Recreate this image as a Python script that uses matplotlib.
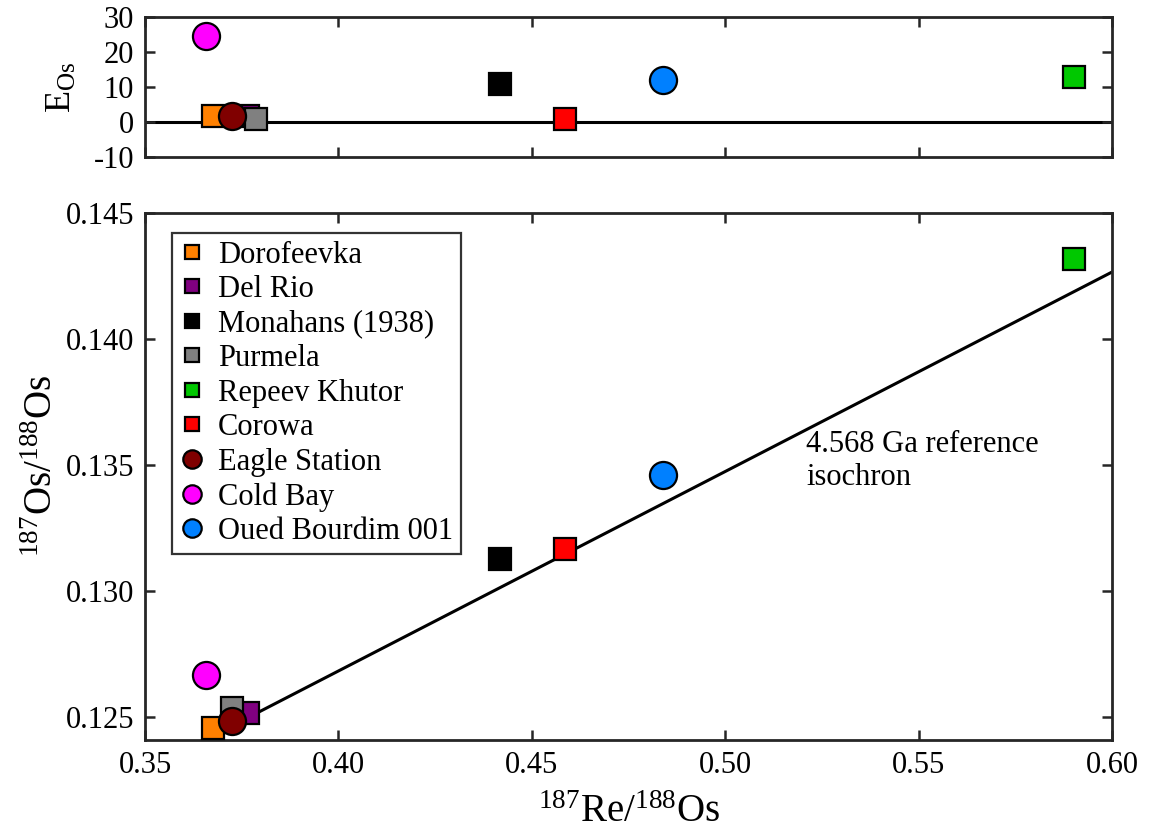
import matplotlib
matplotlib.use("Agg")
import matplotlib.pyplot as plt

plt.rcParams['font.family'] = ['Liberation Serif', 'DejaVu Serif']
plt.rcParams['mathtext.fontset'] = 'custom'
plt.rcParams['mathtext.rm'] = 'Liberation Serif'
plt.rcParams['mathtext.it'] = 'Liberation Serif:italic'
plt.rcParams['axes.unicode_minus'] = False

# sample names, marker shapes and colours
names = ['Dorofeevka', 'Del Rio', 'Monahans (1938)', 'Purmela', 'Repeev Khutor',
         'Corowa', 'Eagle Station', 'Cold Bay', 'Oued Bourdim 001']
shapes = ['s', 's', 's', 's', 's', 's', 'o', 'o', 'o']
colors = ['#ff8000', '#800080', '#000000', '#808080', '#00c800',
          '#ff0000', '#800000', '#ff00ff', '#0080ff']

# 187Re/188Os and 187Os/188Os
re_os = [0.3677, 0.3767, 0.4418, 0.3725, 0.5902, 0.4586, 0.3725, 0.3658, 0.4839]
os_os = [0.12456, 0.12516, 0.13127, 0.12536, 0.14317, 0.13167, 0.12484, 0.12667, 0.13460]

# epsilon Os panel (x positions as plotted there)
eps_x = [0.3677, 0.3765, 0.4418, 0.3787, 0.5902, 0.4586, 0.3725, 0.3658, 0.4839]
eps_os = [1.7, 1.6, 10.9, 0.9, 12.9, 0.9, 1.7, 24.6, 12.0]

# 4.568 Ga reference isochron end points
iso_x = [0.3765, 0.600]
iso_y = [0.12498, 0.14266]

fig = plt.figure(figsize=(11.52, 8.38), dpi=100)
ax_top = fig.add_axes([0.1259, 0.8126, 0.8394, 0.1671])
ax = fig.add_axes([0.1259, 0.1169, 0.8394, 0.6289])

sq_size = 15.5
circ_size = 19.5

for a in (ax_top, ax):
    for s in a.spines.values():
        s.set_linewidth(2.0)
        s.set_color('#262626')
    a.tick_params(direction='in', length=7, width=1.8, top=True, right=True,
                  labelsize=22, colors='#262626', labelcolor='black', pad=8)
    a.set_xlim(0.35, 0.60)
    a.set_xticks([0.35, 0.40, 0.45, 0.50, 0.55, 0.60])

# top panel
ax_top.axhline(0, color='black', linewidth=2.2, zorder=1)
for x, y, m, c in zip(eps_x, eps_os, shapes, colors):
    ax_top.plot(x, y, linestyle='none', marker=m, color=c,
                markersize=sq_size if m == 's' else circ_size,
                markeredgecolor='black', markeredgewidth=1.6, zorder=3)
ax_top.set_ylim(-10, 30)
ax_top.set_yticks([-10, 0, 10, 20, 30])
ax_top.set_xticklabels([])
ax_top.set_ylabel(r'E$_{\rm Os}$', fontsize=26)
ax_top.yaxis.set_label_coords(-0.068, 0.5)

# main isochron panel
ax.plot(iso_x, iso_y, color='black', linewidth=2.2, zorder=1)
for x, y, m, c, n in zip(re_os, os_os, shapes, colors, names):
    ax.plot(x, y, linestyle='none', marker=m, color=c,
            markersize=sq_size if m == 's' else circ_size,
            markeredgecolor='black', markeredgewidth=1.6, label=n, zorder=3)

ax.set_ylim(0.1241, 0.145)
ax.set_yticks([0.125, 0.130, 0.135, 0.140, 0.145])
ax.set_yticklabels(['0.125', '0.130', '0.135', '0.140', '0.145'])
ax.set_xticklabels(['0.35', '0.40', '0.45', '0.50', '0.55', '0.60'])
ax.set_xlabel(r'$^{187}$Re/$^{188}$Os', fontsize=28, labelpad=10)
ax.set_ylabel(r'$^{187}$Os/$^{188}$Os', fontsize=28)
ax.yaxis.set_label_coords(-0.087, 0.52)

ax.text(0.521, 0.1364, '4.568 Ga reference\nisochron', fontsize=22,
        ha='left', va='top', linespacing=1.2)

leg = ax.legend(loc='upper left', bbox_to_anchor=(0.028, 0.962), borderaxespad=0,
                fontsize=22, markerscale=0.68, handlelength=0.8, handletextpad=0.45,
                labelspacing=0.18, frameon=True, fancybox=False, framealpha=1,
                borderpad=0.25)
leg.get_frame().set_edgecolor('#333333')
leg.get_frame().set_linewidth(1.6)

fig.savefig('out.png', dpi=100)
